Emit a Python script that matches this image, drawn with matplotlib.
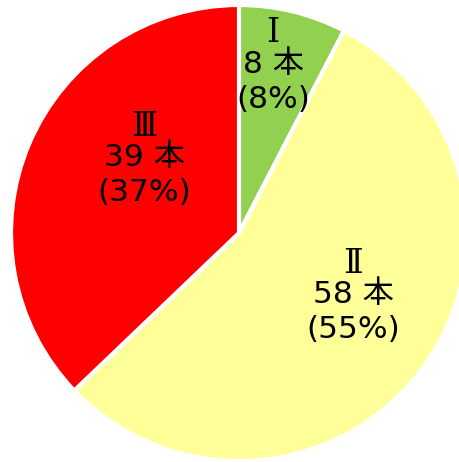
import matplotlib
matplotlib.use("Agg")
import matplotlib.pyplot as plt

plt.rcParams['font.family'] = ['DejaVu Sans', 'Noto Sans CJK JP']

# data
groups = ['Ⅰ', 'Ⅱ', 'Ⅲ']
counts = [8, 58, 39]
pcts = [8, 55, 37]
colors = ['#92D050', '#FFFF99', '#FF0000']
# label centres (radius units, relative to pie centre)
label_pos = [(0.15, 0.74), (0.50, -0.27), (-0.415, 0.33)]

fig = plt.figure(figsize=(4.59, 4.62), dpi=100)
ax = fig.add_axes([11 / 459, 1 / 462, 456 / 459, 456 / 462])
ax.pie(counts, colors=colors, startangle=90, counterclock=False,
       wedgeprops=dict(edgecolor='white', linewidth=3), radius=1.0)
ax.set_xlim(-1, 1)
ax.set_ylim(-1, 1)
ax.set_aspect('equal')
ax.axis('off')

step = 35 * 72 / 100  # line gap in points
for g, c, p, (x, y) in zip(groups, counts, pcts, label_pos):
    ax.annotate(g, (x, y), xytext=(0, step - 3), textcoords='offset points',
                ha='center', va='center', fontsize=24,
                family=['DejaVu Serif', 'Noto Sans CJK JP'])
    ax.annotate(f"{c} 本", (x, y), ha='center', va='center', fontsize=22.5)
    ax.annotate(f"({p}%)", (x, y), xytext=(0, -step), textcoords='offset points',
                ha='center', va='center', fontsize=22.5)

fig.savefig('out.png', dpi=100)
